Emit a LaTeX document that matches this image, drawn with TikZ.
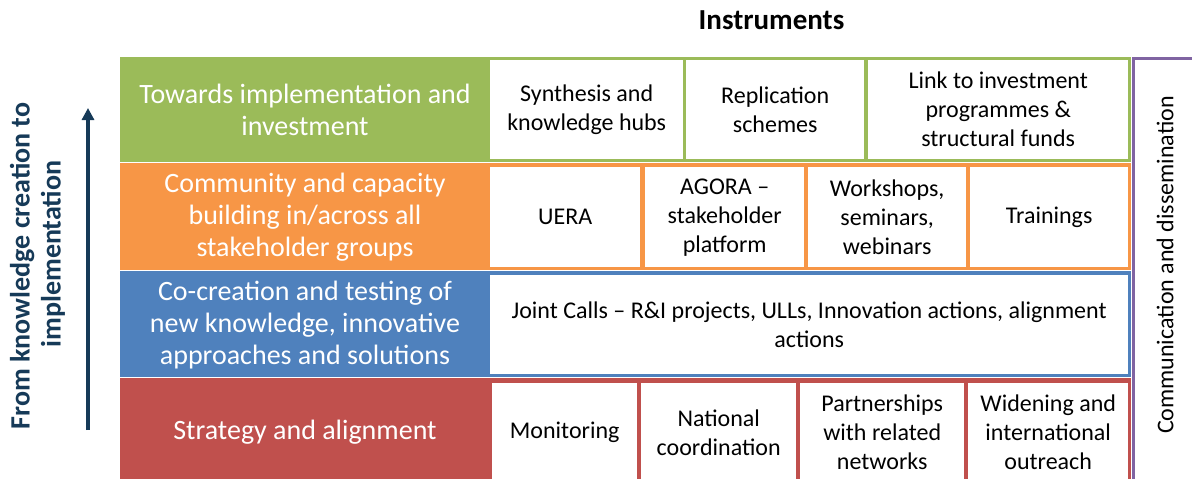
\documentclass[tikz,border=0pt]{standalone}
\usepackage{fontspec}
\setmainfont{Carlito}
\usetikzlibrary{arrows.meta}
\definecolor{cgreen}{HTML}{9BBB59}
\definecolor{corange}{HTML}{F79646}
\definecolor{cblue}{HTML}{4F81BD}
\definecolor{cred}{HTML}{C0504D}
\definecolor{cpurple}{HTML}{8064A2}
\definecolor{navy}{HTML}{163A58}
\tikzset{
  rowbg/.style={anchor=north west, inner sep=0pt, minimum width=1011pt},
  cell/.style={fill=white, anchor=north west, inner sep=0pt, align=center,
    text=black, font=\fontsize{24}{29}\selectfont},
  rowlab/.style={text=white, align=center, inner sep=0pt, font=\fontsize{28}{32}\selectfont},
}
\begin{document}
\begin{tikzpicture}[x=1pt,y=-1pt]
\useasboundingbox (0,0) rectangle (1192,479);
\clip (0,0) rectangle (1192,479);

% title
\node[font=\bfseries\fontsize{29}{32}\selectfont] (title) at (771.5,20) {Instruments};

% row backgrounds
\node[rowbg, fill=cgreen,  minimum height=105pt] (rowG) at (120,57) {};
\node[rowbg, fill=corange, minimum height=107pt] (rowO) at (120,163) {};
\node[rowbg, fill=cblue,   minimum height=106pt] (rowB) at (120,271) {};
\node[rowbg, fill=cred,    minimum height=112pt] (rowR) at (120,378) {};

% row labels
\node[rowlab] (labG) at (305,110) {Towards implementation and\\investment};
\node[rowlab] (labO) at (305,217) {Community and capacity\\building in/across all\\stakeholder groups};
\node[rowlab] (labB) at (305,325) {Co-creation and testing of\\new knowledge, innovative\\approaches and solutions};
\node[rowlab] (labR) at (305,432) {Strategy and alignment};

% green row cells
\node[cell, minimum width=193pt, minimum height=99pt] (g1) at (490,60) {Synthesis and\\knowledge hubs};
\node[cell, minimum width=178pt, minimum height=99pt] (g2) at (686,60) {Replication\\schemes};
\node[cell, minimum width=260pt, minimum height=99pt] (g3) at (868,60) {Link to investment\\programmes \&\\structural funds};

% orange row cells
\node[cell, minimum width=150pt, minimum height=100pt] (o1) at (490,167) {UERA};
\node[cell, minimum width=159pt, minimum height=100pt] (o2) at (645,167) {AGORA –\\stakeholder\\platform};
\node[cell, minimum width=158pt, minimum height=100pt] (o3) at (808,167) {Workshops,\\seminars,\\webinars};
\node[cell, minimum width=158pt, minimum height=100pt] (o4) at (970,167) {Trainings};

% blue row cell
\node[cell, minimum width=638pt, minimum height=99pt] (b1) at (490,275) {Joint Calls – R\&I projects, ULLs, Innovation actions, alignment\\actions};

% red row cells
\node[cell, minimum width=145pt, minimum height=99pt] (r1) at (492,383) {Monitoring};
\node[cell, minimum width=155pt, minimum height=99pt] (r2) at (641,383) {National\\coordination};
\node[cell, minimum width=164pt, minimum height=99pt] (r3) at (800,383) {Partnerships\\with related\\networks};
\node[cell, minimum width=160pt, minimum height=99pt] (r4) at (968,383) {Widening and\\international\\outreach};

% communication column
\coordinate (pB) at (1133,490);
\coordinate (pT) at (1200,58.5);
\draw[cpurple, line width=3pt] (pB) |- (pT);
\node[rotate=90, font=\fontsize{24}{29}\selectfont] (comm) at (1165,265) {Communication and dissemination};

% left arrow and label
\coordinate (arrS) at (88,430);
\coordinate (arrE) at (88,108);
\draw[navy, line width=3.5pt, -{Triangle[width=12pt,length=12pt]}] (arrS) -- (arrE);
\node[rotate=90, text=navy, align=center, inner sep=0pt, font=\bfseries\fontsize{28}{31}\selectfont] (from) at (37.5,266)
  {From knowledge creation to\\\hspace*{24pt}implementation};
\end{tikzpicture}
\end{document}
